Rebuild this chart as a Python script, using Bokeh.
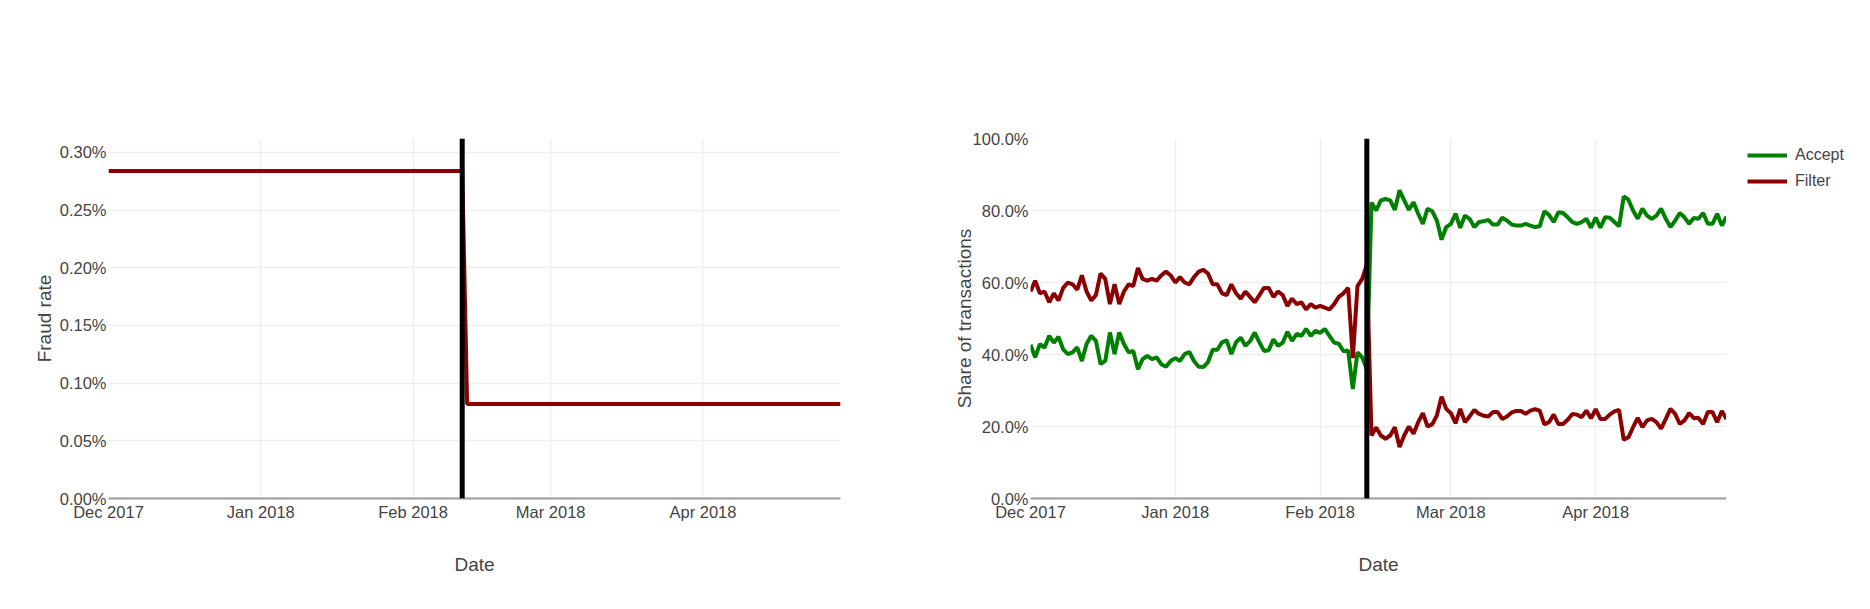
import pandas as pd
from bokeh.plotting import figure
from bokeh.models import Span, Range1d, FixedTicker, NumeralTickFormatter, Legend, LegendItem, ColumnDataSource
from bokeh.layouts import row
from bokeh.embed import file_html
from bokeh.resources import INLINE

FONT = "Liberation Sans"
TXT = "#444444"

# ---------------- data ----------------
month_ticks = ["2017-12-01", "2018-01-01", "2018-02-01", "2018-03-01", "2018-04-01"]
month_labels = ["Dec 2017", "Jan 2018", "Feb 2018", "Mar 2018", "Apr 2018"]
start_date = "2017-12-01"
end_date = "2018-04-29"
change_date = "2018-02-11"

fraud_dates = ["2017-12-01", "2018-02-11", "2018-02-12", "2018-04-29"]
fraud_rate_pct = [0.284, 0.284, 0.082, 0.082]
fraud_ticks_pct = [0.0, 0.05, 0.10, 0.15, 0.20, 0.25, 0.30]

share_ticks_pct = [0, 20, 40, 60, 80, 100]
series_names = ["Accept", "Filter"]

accept_pct = [
    42.7, 39.2, 42.9, 41.9, 45.2, 43.3, 44.9, 41.4, 40.1, 40.6,
    42.0, 38.2, 42.9, 45.2, 43.8, 37.3, 38.2, 46.1, 40.1, 46.1,
    42.9, 40.6, 41.0, 35.9, 38.7, 39.6, 38.7, 39.2, 37.3, 36.6,
    38.2, 39.0, 38.2, 40.1, 40.7, 38.2, 36.6, 36.5, 37.9, 41.3,
    41.3, 43.4, 43.9, 40.1, 43.4, 44.7, 42.4, 43.7, 46.1, 43.4,
    41.0, 41.2, 44.2, 42.4, 43.3, 46.3, 43.8, 45.7, 45.2, 47.1,
    45.2, 46.6, 46.0, 47.1, 45.2, 43.3, 43.0, 40.9, 41.1, 30.4,
    40.6, 39.2, 35.9,
    82.2, 80.0,
    82.8, 83.2, 82.8, 80.2, 85.6, 82.8, 80.2, 82.3, 79.1, 76.3,
    80.5, 79.8, 77.2, 71.9, 75.4, 76.3, 79.1, 75.2, 78.6, 77.7,
    75.4, 76.8, 77.0, 77.4, 76.1, 76.1, 78.0, 77.2, 76.1, 75.8,
    75.8, 76.3, 75.8, 75.4, 75.6, 79.8, 78.8, 76.8, 79.5, 79.3,
    78.1, 76.8, 76.3, 76.8, 77.7, 75.2, 78.0, 75.2, 78.1, 78.0,
    76.8, 75.6, 83.9, 83.0, 80.0, 77.7, 80.5, 78.6, 77.7, 78.6,
    80.5, 77.7, 75.4, 77.2, 79.3, 78.1, 76.3, 77.9, 77.7, 79.3,
    76.3, 76.3, 79.1, 75.8, 78.3,
]

filter_pct = [
    57.5, 60.5, 57.0, 57.5, 54.5, 57.0, 55.0, 58.5, 60.0, 59.5,
    58.0, 62.0, 57.5, 55.0, 56.5, 62.5, 61.0, 54.0, 59.5, 54.0,
    57.5, 59.5, 59.0, 64.0, 61.0, 60.5, 61.0, 60.5, 62.0, 63.0,
    62.0, 60.0, 61.5, 60.0, 59.5, 61.5, 63.0, 63.5, 62.5, 59.5,
    59.5, 57.0, 56.5, 59.5, 57.0, 55.5, 57.5, 56.0, 54.5, 56.5,
    58.5, 58.5, 56.0, 57.5, 56.5, 53.5, 55.5, 54.0, 54.5, 52.5,
    54.0, 53.0, 53.5, 53.0, 52.5, 54.0, 56.0, 57.0, 58.5, 39.0,
    59.0, 61.0, 65.0,
    17.5, 19.7,
    17.5, 16.6, 17.5, 19.8, 14.3, 17.5, 20.0, 18.0, 21.2, 23.7,
    20.0, 20.6, 23.1, 28.3, 24.9, 23.7, 20.9, 24.9, 21.2, 22.8,
    24.6, 23.5, 23.0, 22.8, 24.0, 24.0, 22.1, 22.8, 23.9, 24.3,
    24.3, 23.5, 24.4, 24.8, 24.4, 20.6, 21.2, 23.3, 20.7, 20.7,
    21.9, 23.5, 23.3, 22.6, 24.4, 22.3, 24.8, 22.1, 22.1, 23.3,
    24.2, 24.6, 16.3, 17.0, 19.8, 22.4, 19.8, 21.7, 22.1, 21.2,
    19.4, 22.1, 24.9, 23.5, 20.7, 21.7, 23.7, 22.3, 22.4, 20.7,
    24.0, 24.0, 21.2, 24.3, 22.1,
]

ACCEPT_COLOR = "#008000"
FILTER_COLOR = "#8b0000"
LW = 4

# ---------------- helpers ----------------
def ms(d):
    return pd.Timestamp(d).value / 1e6

tick_ms = [ms(d) for d in month_ticks]
x_start, x_end = pd.Timestamp(start_date), pd.Timestamp(end_date)


def style(p, yticks, yfmt, ylabel):
    p.outline_line_color = None
    p.background_fill_color = "white"
    p.border_fill_color = "white"
    p.xaxis.ticker = FixedTicker(ticks=tick_ms)
    p.xaxis.major_label_overrides = {t: l for t, l in zip(tick_ms, month_labels)}
    p.yaxis.ticker = FixedTicker(ticks=yticks)
    p.yaxis.formatter = NumeralTickFormatter(format=yfmt)
    for ax in (p.xaxis[0], p.yaxis[0]):
        ax.major_label_text_font = FONT
        ax.major_label_text_font_size = "16.5px"
        ax.major_label_text_color = TXT
        ax.axis_label_text_font = FONT
        ax.axis_label_text_font_size = "19px"
        ax.axis_label_text_font_style = "normal"
        ax.axis_label_text_color = TXT
        ax.major_tick_line_color = None
        ax.minor_tick_line_color = None
        ax.major_tick_out = 0
        ax.major_tick_in = 0
        ax.minor_tick_out = 0
        ax.minor_tick_in = 0
    p.xaxis.axis_line_color = "#999999"
    p.xaxis.axis_line_width = 2
    p.yaxis.axis_line_color = None
    p.xaxis.axis_label = "Date"
    p.xaxis.major_label_standoff = 4
    p.xaxis.axis_label_standoff = 30
    p.yaxis.axis_label = ylabel
    p.yaxis.major_label_standoff = 2
    p.xgrid.ticker = FixedTicker(ticks=tick_ms)
    p.ygrid.ticker = FixedTicker(ticks=yticks)
    for g in (p.xgrid[0], p.ygrid[0]):
        g.grid_line_color = "#eeeeee"
        g.grid_line_width = 1.5
    p.add_layout(Span(location=ms(change_date), dimension="height",
                      line_color="black", line_width=5))


# ---------------- left: fraud rate ----------------
p1 = figure(width=908, height=609, x_axis_type="datetime",
            output_backend="svg", toolbar_location=None,
            x_range=Range1d(x_start, x_end), y_range=Range1d(0, 0.003121),
            min_border_left=108, min_border_right=68,
            min_border_top=138, min_border_bottom=111)
src1 = ColumnDataSource(dict(x=pd.to_datetime(fraud_dates),
                             y=[v / 100 for v in fraud_rate_pct]))
p1.line("x", "y", source=src1, line_color=FILTER_COLOR, line_width=LW)
style(p1, [v / 100 for v in fraud_ticks_pct], "0.00%", "Fraud rate")
p1.yaxis.axis_label_standoff = 2

# ---------------- right: share of transactions ----------------
dates = pd.date_range(start_date, periods=len(accept_pct), freq="D")
p2 = figure(width=818, height=609, x_axis_type="datetime",
            output_backend="svg", toolbar_location=None,
            x_range=Range1d(x_start, x_end), y_range=Range1d(0, 1),
            min_border_left=122, min_border_right=0,
            min_border_top=138, min_border_bottom=111)
src2 = ColumnDataSource(dict(x=dates, a=[v / 100 for v in accept_pct],
                             f=[v / 100 for v in filter_pct]))
p2.line("x", "a", source=src2, line_color=ACCEPT_COLOR, line_width=LW)
p2.line("x", "f", source=src2, line_color=FILTER_COLOR, line_width=LW)
style(p2, [v / 100 for v in share_ticks_pct], "0.0%", "Share of transactions")
p2.yaxis.axis_label_standoff = -5

# ---------------- legend panel (same series, kept out of view) ----------------
p3 = figure(width=144, height=609, output_backend="svg", toolbar_location=None,
            x_axis_location=None, y_axis_location=None,
            x_range=Range1d(0, 1), y_range=Range1d(0, 1),
            min_border_left=0, min_border_right=0,
            min_border_top=138, min_border_bottom=111)
p3.outline_line_color = None
p3.xgrid.visible = False
p3.ygrid.visible = False
la = p3.line("x", "a", source=src2, line_color=ACCEPT_COLOR, line_width=LW)
lf = p3.line("x", "f", source=src2, line_color=FILTER_COLOR, line_width=LW)
legend = Legend(items=[LegendItem(label=series_names[0], renderers=[la]),
                       LegendItem(label=series_names[1], renderers=[lf])],
                location=(21, 307), orientation="vertical",
                glyph_width=40, glyph_height=20, label_height=20,
                label_standoff=8, spacing=6, padding=0, margin=0,
                border_line_color=None, background_fill_alpha=0,
                label_text_font=FONT, label_text_font_size="16px",
                label_text_color=TXT)
p3.add_layout(legend, "center")

layout = row(p1, p2, p3)
open("out.html", "w").write(file_html(layout, INLINE))
